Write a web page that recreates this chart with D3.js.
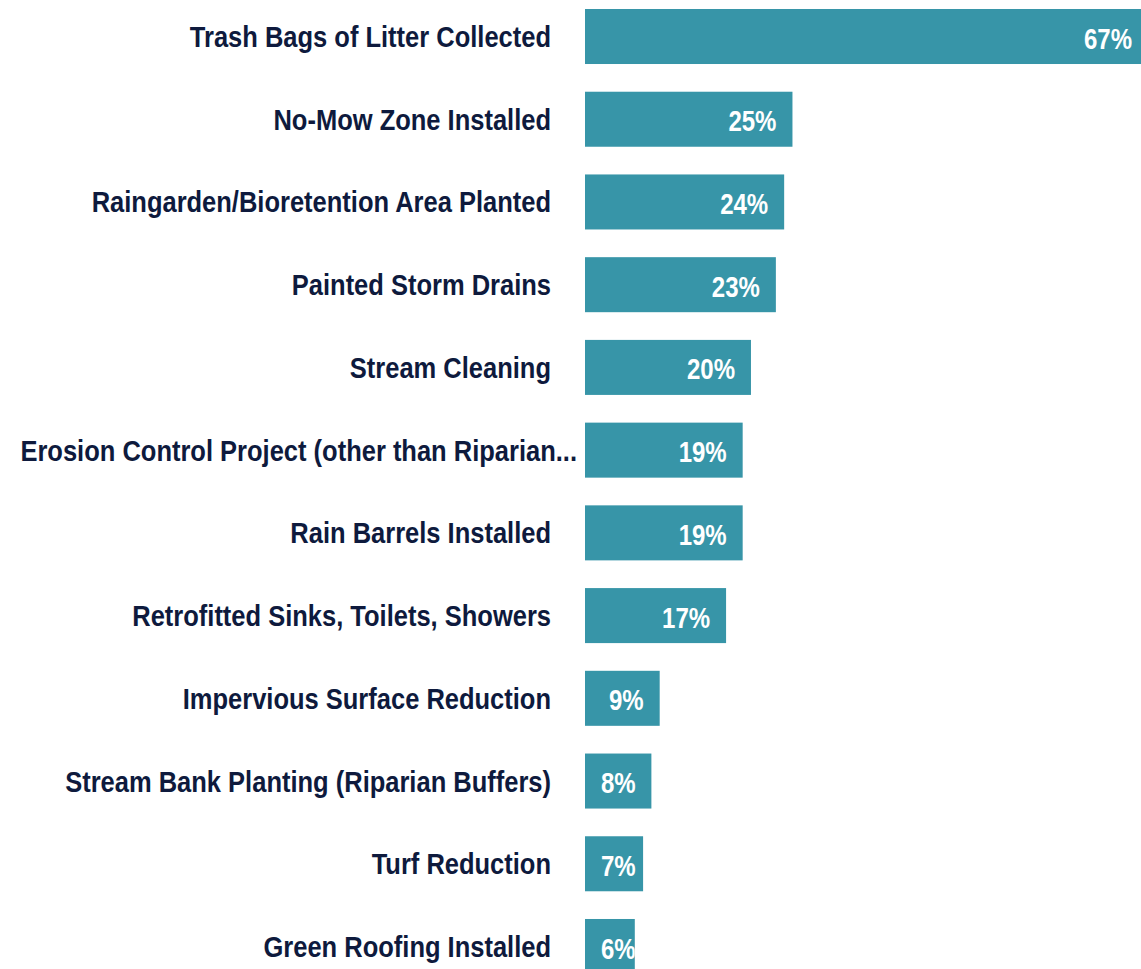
<!DOCTYPE html>
<html>
<head>
<meta charset="utf-8">
<script src="https://cdn.jsdelivr.net/npm/d3@7"></script>
<style>
  body { margin: 0; background: #fff; }
  svg text { font-family: "Liberation Sans", Arial, sans-serif; font-weight: bold; }
</style>
</head>
<body>
<svg id="chart" width="1141" height="969"></svg>
<script>
// categories and percentages
var categories = [
	"Trash Bags of Litter Collected",
	"No-Mow Zone Installed",
	"Raingarden/Bioretention Area Planted",
	"Painted Storm Drains",
	"Stream Cleaning",
	"Erosion Control Project (other than Riparian...",
	"Rain Barrels Installed",
	"Retrofitted Sinks, Toilets, Showers",
	"Impervious Surface Reduction",
	"Stream Bank Planting (Riparian Buffers)",
	"Turf Reduction",
	"Green Roofing Installed"
];
var values = [67, 25, 24, 23, 20, 19, 19, 17, 9, 8, 7, 6];

var barColor = "#3795a8";
var labelColor = "#0e1a3d";
var squeeze = 0.85; // narrow the font to look condensed

var svg = d3.select("#chart");

var x = d3.scaleLinear()
	.domain([0, 67])
	.range([585, 1141]);

var y = d3.scaleBand()
	.domain(categories)
	.range([9, 974])
	.paddingInner(0.335)
	.paddingOuter(0);

var rows = svg.selectAll("g.row")
	.data(categories)
	.enter()
	.append("g")
	.attr("class", "row");

// truncated labels run past the usual right edge
rows.append("text")
	.attr("transform", function (d) {
		var tx = /\.\.\.$/.test(d) ? 577 : 551;
		return "translate(" + tx + "," + (y(d) + y.bandwidth() / 2) + ") scale(" + squeeze + ",1)";
	})
	.attr("dy", "0.35em")
	.attr("text-anchor", "end")
	.style("font-size", "30px")
	.style("fill", labelColor)
	.text(function (d) { return d; });

svg.append("defs").selectAll("clipPath")
	.data(categories)
	.enter()
	.append("clipPath")
	.attr("id", function (d, i) { return "clip" + i; })
	.append("rect")
	.attr("x", x(0))
	.attr("y", function (d) { return y(d); })
	.attr("width", function (d, i) { return x(values[i]) - x(0); })
	.attr("height", y.bandwidth());

rows.append("rect")
	.attr("x", x(0))
	.attr("y", function (d) { return y(d); })
	.attr("width", function (d, i) { return x(values[i]) - x(0); })
	.attr("height", y.bandwidth())
	.style("fill", barColor);

rows.append("g")
	.attr("clip-path", function (d, i) { return "url(#clip" + i + ")"; })
	.append("text")
	.attr("transform", function (d, i) {
		var tx = values[i] < 9 ? x(0) + 16 : x(values[i]) - (i === 0 ? 9 : 16);
		return "translate(" + tx + "," + (y(d) + y.bandwidth() / 2) + ") scale(0.8,1)";
	})
	.attr("dy", "0.4em")
	.attr("text-anchor", function (d, i) { return values[i] < 9 ? "start" : "end"; })
	.style("font-size", "30px")
	.style("fill", "#fff")
	.text(function (d, i) { return values[i] + "%"; });
</script>
</body>
</html>
